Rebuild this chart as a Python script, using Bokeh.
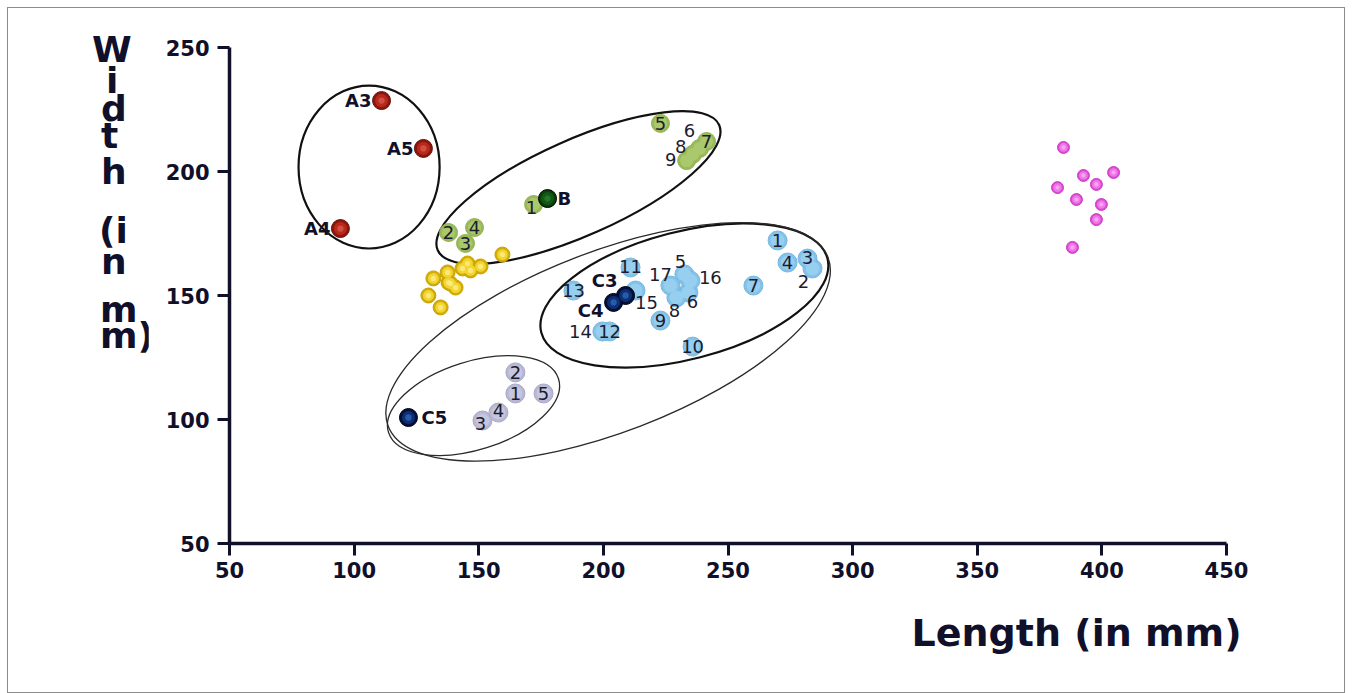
import math
from bokeh.plotting import figure
from bokeh.layouts import row
from bokeh.models import ColumnDataSource, Range1d, Title, FixedTicker, Div
from bokeh.embed import file_html
from bokeh.resources import INLINE
from bokeh.core.properties import value

# ---------------- data ----------------
red_labels = ["A3", "A5", "A4"]
red_x = [111.0, 127.8, 94.5]
red_y = [228.6, 209.3, 177.0]

green_labels = ["1", "2", "3", "4", "5", "6", "7", "8", "9"]
green_x = [172.0, 137.9, 144.7, 148.3, 222.9, 238.6, 241.4, 235.8, 233.4]
green_y = [186.7, 175.4, 171.0, 177.4, 219.4, 209.3, 212.1, 206.9, 204.4]

b_labels = ["B"]
b_x = [177.6]
b_y = [189.1]

yellow_x = [159.5, 150.7, 145.5, 143.5, 146.7, 137.5, 131.8, 137.9, 140.7, 138.7, 129.8, 134.7]
yellow_y = [166.5, 161.7, 162.9, 160.9, 160.1, 159.3, 156.9, 155.2, 153.2, 154.8, 150.0, 145.2]

blue_labels = [str(i) for i in range(1, 18)]
blue_x = [269.9, 283.9, 281.9, 273.9, 232.5, 234.1, 260.2, 229.3, 222.9,
          235.8, 210.9, 202.5, 188.0, 199.6, 212.9, 234.9, 226.9]
blue_y = [172.2, 160.9, 164.9, 163.3, 158.5, 151.2, 154.0, 149.2, 139.9,
          129.4, 161.3, 135.5, 152.0, 135.5, 152.0, 156.0, 154.0]

dark_labels = ["C3", "C4", "C5"]
dark_x = [208.9, 204.1, 121.8]
dark_y = [150.0, 147.2, 100.8]

lav_labels = ["1", "2", "3", "4", "5"]
lav_x = [164.7, 164.7, 151.5, 157.9, 176.0]
lav_y = [110.5, 119.0, 99.6, 102.8, 110.5]

pink_x = [384.6, 392.6, 404.7, 382.2, 397.8, 389.8, 399.8, 397.8, 388.2]
pink_y = [209.7, 198.4, 199.6, 193.5, 194.8, 188.7, 186.7, 180.6, 169.4]

# group outlines (ellipses, data units)
ell_x = [106.0, 190.0, 232.5, 201.9, 147.9]
ell_y = [201.8, 193.5, 150.0, 131.3, 105.6]
ell_w = [56.6, 123.6, 118.6, 189.0, 71.5]
ell_h = [65.7, 38.6, 51.4, 72.8, 35.6]
ell_angle_deg = [0.0, 24.0, 14.5, 21.0, 17.5]

x_ticks = [50, 100, 150, 200, 250, 300, 350, 400, 450]
y_ticks = [50, 100, 150, 200, 250]
x_title = "Length (in mm)"
y_title_rows = ["W", "i", "d", "t", "h", "(i", "n", "m", "m)"]

# ---------------- styles ----------------
INK = "#10102a"
FONT = "DejaVu Sans"
green_off = [(-2, 3), (0, 0), (0, 0), (0, 0), (0, 0), (-10, -18), (0, 0), (-12, -8), (-16, -1)]
blue_off = [(0, 0), (-9, 13), (0, -1), (0, 0), (-4, -13), (4, 9), (0, 0), (-2, 13), (0, 0),
            (0, 0), (0, -1), (0, 0), (0, 0), (-22, 0), (11, 12), (20, -3), (-10, -11)]
dark_off = [(-21, -15), (-23, 8), (26, 0)]
lav_off = [(0, 0), (0, 0), (-2, 3), (0, -2), (0, 0)]

TOTAL_W, TOTAL_H = 1336, 684
LEFT_W = 140
# stacked y title: left edge and baseline of each row, page pixels
row_left = [92, 106, 101, 101, 101, 99, 101, 100, 100]
row_base = [62, 93, 121, 148, 184, 243, 274, 322, 348]
YT_SIZE = 36
YT_LINE = 24

# ---------------- left strip with the stacked y title ----------------
asc = 0.928 * YT_SIZE
half_lead = (YT_LINE - 1.164 * YT_SIZE) / 2
spans = []
for t, lx, by in zip(y_title_rows, row_left, row_base):
    top = by - 8 - (half_lead + asc)
    spans.append(f'<div style="position:absolute;left:{lx - 8}px;top:{top:.1f}px;'
                 f'line-height:{YT_LINE}px;height:{YT_LINE}px;white-space:nowrap;">{t}</div>')
html = (f'<div style="position:relative;width:{LEFT_W}px;height:{TOTAL_H}px;'
        f'font-family:\'{FONT}\';font-weight:bold;font-size:{YT_SIZE}px;color:{INK};">'
        + "".join(spans) + "</div>")
ytitle = Div(text=html, width=LEFT_W, height=TOTAL_H, margin=0)

# ---------------- main plot ----------------
MAIN_W = TOTAL_W - LEFT_W
p = figure(width=MAIN_W, height=TOTAL_H, x_range=Range1d(50, 450), y_range=Range1d(50, 250),
           output_backend="svg", toolbar_location=None,
           min_border_left=81, min_border_right=MAIN_W - 81 - 997,
           min_border_top=39, min_border_bottom=TOTAL_H - 39 - 496)
p.grid.visible = False
p.outline_line_color = None

for ax, ticks in ((p.xaxis[0], x_ticks), (p.yaxis[0], y_ticks)):
    ax.ticker = FixedTicker(ticks=ticks)
    ax.axis_line_width = 3.5
    ax.axis_line_color = INK
    ax.major_tick_line_width = 3
    ax.major_tick_line_color = INK
    ax.major_tick_out = 12
    ax.major_tick_in = 0
    ax.minor_tick_line_color = None
    ax.major_label_text_font = FONT
    ax.major_label_text_font_style = "bold"
    ax.major_label_text_font_size = "21px"
    ax.major_label_text_color = INK
p.xaxis.major_label_standoff = 6
p.yaxis.major_label_standoff = 8

p.add_layout(Title(text=x_title, align="right", offset=-15, standoff=57,
                   text_font=FONT, text_font_style="bold", text_font_size="38px",
                   text_color=INK), "below")

# ellipses
esrc = ColumnDataSource(dict(x=ell_x, y=ell_y, w=ell_w, h=ell_h,
                             a=[math.radians(d) for d in ell_angle_deg],
                             lw=[2.2, 2.2, 2.2, 1.3, 1.3],
                             lc=["#111111", "#111111", "#111111", "#2a2a2a", "#2a2a2a"]))
p.ellipse(x="x", y="y", width="w", height="h", angle="a", source=esrc,
          fill_color=None, line_color="lc", line_width="lw")


def balls(xs, ys, size, rim, body, hi, outline):
    p.scatter(xs, ys, size=size, fill_color=rim, line_color=outline, line_width=1)
    p.scatter(xs, ys, size=size * 0.72, fill_color=body, line_color=None)
    if hi:
        p.scatter(xs, ys, size=size * 0.35, fill_color=hi, line_color=None, fill_alpha=0.8)


balls(yellow_x, yellow_y, 15, "#d2ad08", "#f3d531", "#fbee8c", "#c9a400")
balls(pink_x, pink_y, 12, "#d94ad0", "#ef78e8", "#fab2f6", "#d040c8")
balls(red_x, red_y, 18, "#8a160e", "#b8291d", "#d9584a", "#6e0f08")
balls(green_x, green_y, 18, "#9ab95a", "#aac96c", None, "#94b356")
balls(b_x, b_y, 18, "#0a3d0c", "#0f5a14", "#2d7a30", "#000000")
balls(blue_x, blue_y, 19, "#84c3e8", "#97cff0", None, "#7ab8e0")
balls(lav_x, lav_y, 19, "#b8b8d4", "#c6c6de", None, "#aaaac8")
balls(dark_x, dark_y, 18, "#03113a", "#0c2f78", "#2f67b0", "#000010")


def labels(xs, ys, texts, offs, bold=False, align="center"):
    src = ColumnDataSource(dict(x=xs, y=ys, t=texts,
                                dx=[o[0] for o in offs], dy=[o[1] for o in offs]))
    p.text(x="x", y="y", text="t", x_offset="dx", y_offset="dy", source=src,
           text_font=value(FONT), text_font_size="18px",
           text_font_style="bold" if bold else "normal",
           text_color=INK if bold else "#1c1c30",
           text_align=align, text_baseline="middle")


labels(green_x, green_y, green_labels, green_off)
labels(blue_x, blue_y, blue_labels, blue_off)
labels(lav_x, lav_y, lav_labels, lav_off)
labels(red_x, red_y, red_labels, [(-10, 0)] * 3, bold=True, align="right")
labels(b_x, b_y, b_labels, [(10, 0)], bold=True, align="left")
labels(dark_x, dark_y, dark_labels, dark_off, bold=True)

layout = row(ytitle, p, styles={"border": "1px solid #8c8c8c", "margin-left": "7px", "margin-top": "7px"})
open("out.html", "w").write(file_html(layout, INLINE))
